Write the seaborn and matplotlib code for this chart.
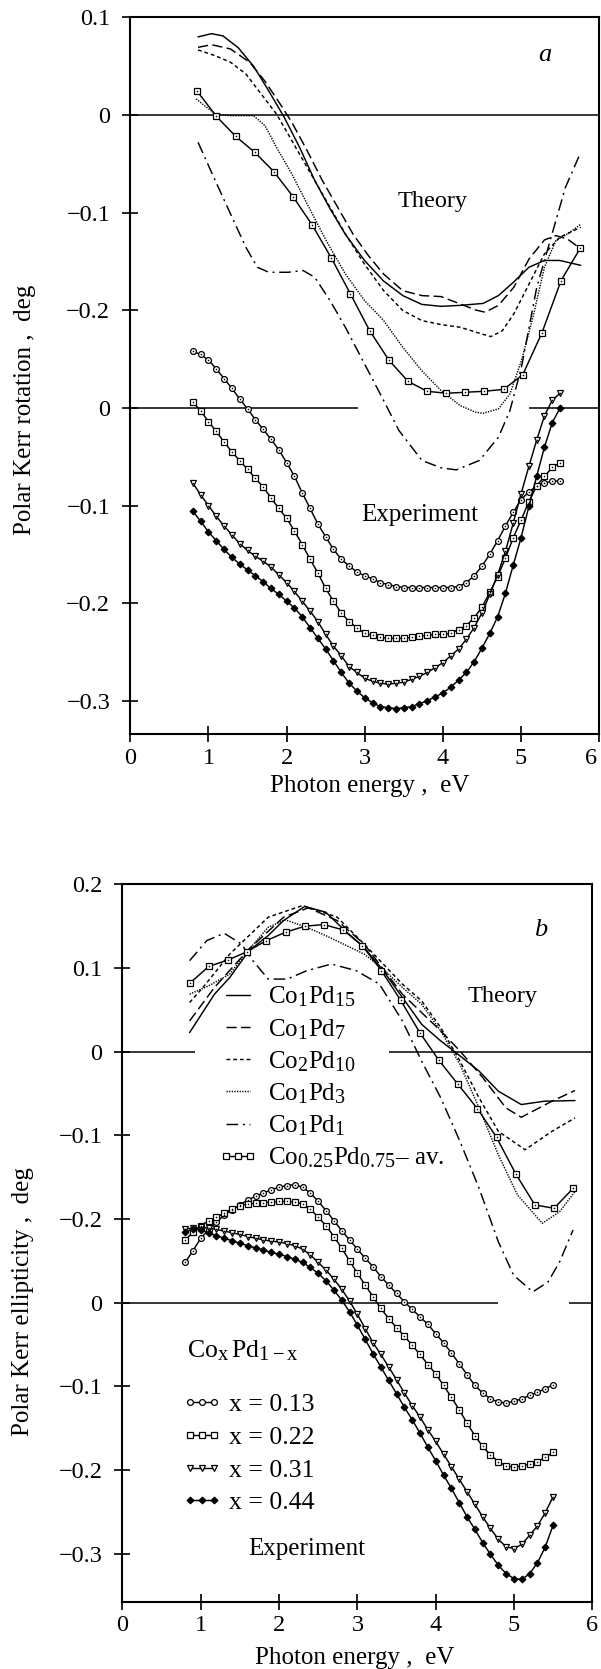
import numpy as np
import matplotlib
matplotlib.use("Agg")
import matplotlib.pyplot as plt
import matplotlib.transforms as mtransforms
from matplotlib.lines import Line2D
import seaborn as sns

try:  # slightly larger sub/superscripts for the compound formulas
    import matplotlib._mathtext as _mt
    _mt.SHRINK_FACTOR = 0.8
except Exception:
    pass

# ------------------------------------------------------------------
# Polar Kerr spectra of Co-Pd alloys (theory curves shifted by +0.3)
# ------------------------------------------------------------------
THEORY_SHIFT = 0.3

# photon energy grid of the measured spectra (eV)
exp_energy = np.linspace(0.8, 5.5, 48)
# energy grid of the configuration-averaged theory curve (eV)
avg_energy = [0.857, 1.102, 1.347, 1.592, 1.837, 2.082, 2.327, 2.572, 2.817, 3.062, 3.307,
              3.552, 3.797, 4.042, 4.287, 4.532, 4.777, 5.022, 5.267, 5.512, 5.757]

# ---------------- (a) Kerr rotation, theory ----------------
rot_co1pd15_e = [0.867, 1.04, 1.185, 1.38, 1.577, 1.77, 1.97, 2.165, 2.36, 2.556, 2.75, 2.997,
                 3.24, 3.487, 3.73, 3.976, 4.22, 4.515, 4.71, 4.907, 5.10, 5.30, 5.495, 5.764]
rot_co1pd15 = [0.080, 0.0833, 0.081, 0.069, 0.050, 0.0249, -0.0024, -0.033, -0.067, -0.096,
               -0.122, -0.149, -0.170, -0.185, -0.194, -0.196, -0.195, -0.193, -0.185, -0.171,
               -0.156, -0.149, -0.149, -0.154]

rot_co1pd7_e = [0.867, 1.04, 1.283, 1.528, 1.724, 1.92, 2.067, 2.263, 2.458, 2.654, 2.85, 3.046,
                3.242, 3.487, 3.732, 3.977, 4.221, 4.417, 4.54, 4.711, 4.907, 5.103, 5.299,
                5.446, 5.593, 5.764]
rot_co1pd7 = [0.0693, 0.072, 0.0676, 0.0539, 0.0345, 0.011, -0.0075, -0.0365, -0.0672, -0.0945,
              -0.122, -0.144, -0.163, -0.180, -0.185, -0.186, -0.1935, -0.1997, -0.202, -0.195,
              -0.1765, -0.1474, -0.128, -0.1235, -0.127, -0.137]

rot_co2pd10_e = [0.867, 1.087, 1.283, 1.479, 1.675, 1.871, 2.067, 2.263, 2.507, 2.752, 2.997,
                 3.242, 3.487, 3.732, 3.977, 4.221, 4.466, 4.613, 4.76, 4.907, 5.103, 5.299,
                 5.495, 5.764]
rot_co2pd10 = [0.0666, 0.0607, 0.054, 0.042, 0.0215, 0.001, -0.0263, -0.0536, -0.0877, -0.1218,
               -0.1529, -0.1799, -0.2003, -0.2106, -0.2147, -0.2174, -0.2235, -0.227, -0.221,
               -0.2038, -0.173, -0.1423, -0.1253, -0.115]

rot_co1pd3_e = [0.842, 1.087, 1.283, 1.577, 1.724, 1.871, 2.067, 2.263, 2.507, 2.752, 2.997,
                3.242, 3.487, 3.732, 3.977, 4.221, 4.417, 4.515, 4.711, 4.858, 5.005, 5.152,
                5.299, 5.446, 5.593, 5.764]
rot_co1pd3 = [0.0164, 0.001, -0.0007, -0.0007, -0.011, -0.0331, -0.0604, -0.0911, -0.1287,
              -0.1628, -0.190, -0.2106, -0.2379, -0.2621, -0.2823, -0.2976, -0.3044, -0.3055,
              -0.301, -0.2857, -0.2515, -0.2072, -0.156, -0.1287, -0.1218, -0.112]

rot_co1pd1_e = [0.867, 1.087, 1.283, 1.479, 1.626, 1.773, 2.018, 2.213, 2.36, 2.556, 2.752,
                2.997, 3.242, 3.438, 3.732, 3.977, 4.172, 4.466, 4.711, 4.858, 5.005, 5.201,
                5.397, 5.568, 5.764]
rot_co1pd1 = [-0.028, -0.0672, -0.1014, -0.1355, -0.156, -0.1611, -0.1611, -0.1594, -0.1662,
              -0.1901, -0.2174, -0.2549, -0.2925, -0.3232, -0.3539, -0.3614, -0.3635, -0.3539,
              -0.330, -0.3027, -0.2584, -0.1765, -0.1218, -0.0741, -0.0382]

rot_avg = [0.0242, -0.0014, -0.0218, -0.0382, -0.058, -0.0836, -0.1126, -0.1464, -0.1833,
           -0.2208, -0.2509, -0.2727, -0.283, -0.285, -0.284, -0.283, -0.281, -0.266, -0.2232,
           -0.1696, -0.1365]

# ---------------- (a) Kerr rotation, experiment ----------------
rot_x013 = [0.058, 0.0547, 0.049, 0.040, 0.030, 0.020, 0.009, -0.001, -0.012, -0.022, -0.032,
            -0.043, -0.056, -0.070, -0.087, -0.103, -0.119, -0.132, -0.145, -0.155, -0.162,
            -0.168, -0.172, -0.175, -0.179, -0.181, -0.183, -0.184, -0.184, -0.184, -0.184,
            -0.184, -0.184, -0.184, -0.183, -0.179, -0.172, -0.162, -0.150, -0.136, -0.121,
            -0.107, -0.094, -0.086, -0.080, -0.077, -0.075, -0.075]
rot_x022 = [0.006, -0.003, -0.014, -0.024, -0.035, -0.045, -0.054, -0.063, -0.072, -0.081,
            -0.092, -0.103, -0.113, -0.126, -0.140, -0.155, -0.169, -0.185, -0.198, -0.210,
            -0.219, -0.225, -0.231, -0.233, -0.235, -0.236, -0.236, -0.236, -0.235, -0.234,
            -0.233, -0.232, -0.232, -0.231, -0.227, -0.223, -0.215, -0.204, -0.189, -0.173,
            -0.154, -0.133, -0.115, -0.096, -0.080, -0.070, -0.061, -0.056]
rot_x031 = [-0.077, -0.089, -0.100, -0.111, -0.121, -0.130, -0.139, -0.146, -0.152, -0.157,
            -0.163, -0.171, -0.179, -0.188, -0.198, -0.208, -0.219, -0.232, -0.244, -0.254,
            -0.265, -0.271, -0.277, -0.280, -0.282, -0.283, -0.282, -0.281, -0.278, -0.275,
            -0.271, -0.266, -0.261, -0.254, -0.247, -0.237, -0.225, -0.210, -0.191, -0.171,
            -0.147, -0.118, -0.088, -0.060, -0.033, -0.008, 0.008, 0.015]
rot_x044 = [-0.106, -0.116, -0.127, -0.136, -0.145, -0.153, -0.160, -0.166, -0.172, -0.178,
            -0.185, -0.191, -0.198, -0.205, -0.214, -0.225, -0.236, -0.247, -0.259, -0.271,
            -0.282, -0.290, -0.297, -0.302, -0.306, -0.307, -0.308, -0.307, -0.306, -0.303,
            -0.300, -0.296, -0.292, -0.286, -0.279, -0.271, -0.260, -0.246, -0.231, -0.214,
            -0.190, -0.161, -0.133, -0.101, -0.070, -0.040, -0.015, 0.000]

# ---------------- (b) Kerr ellipticity, theory ----------------
ell_co1pd15_e = [0.857, 1.175, 1.371, 1.616, 1.861, 2.057, 2.326, 2.596, 2.84, 3.085, 3.33,
                 3.575, 3.82, 4.065, 4.26, 4.554, 4.80, 5.093, 5.387, 5.779]
ell_co1pd15 = [0.0228, 0.0688, 0.0888, 0.1208, 0.1388, 0.1568, 0.1736, 0.1668, 0.1448, 0.1248,
               0.0968, 0.0648, 0.0328, 0.0128, -0.0012, -0.0232, -0.0472, -0.0632, -0.0592,
               -0.0584]

ell_co1pd7_e = [0.857, 1.175, 1.616, 2.057, 2.375, 2.742, 3.085, 3.575, 4.065, 4.31, 4.603,
                4.897, 5.093, 5.485, 5.779]
ell_co1pd7 = [0.0368, 0.0768, 0.1228, 0.1608, 0.172, 0.1568, 0.1288, 0.0688, 0.0248, 0.0008,
              -0.0312, -0.0672, -0.0784, -0.0592, -0.0464]

ell_co2pd10_e = [0.857, 1.028, 1.371, 1.861, 2.302, 2.742, 3.085, 3.575, 3.82, 4.065, 4.31,
                 4.554, 4.80, 5.142, 5.485, 5.779]
ell_co2pd10 = [0.0588, 0.0768, 0.1168, 0.1608, 0.1748, 0.1608, 0.1288, 0.0808, 0.0608, 0.0288,
               -0.0112, -0.0552, -0.0952, -0.1172, -0.0952, -0.0792]

ell_co1pd3_e = [0.857, 1.102, 1.371, 1.567, 1.861, 2.081, 2.351, 2.596, 3.085, 3.33, 3.575,
                3.82, 4.065, 4.31, 4.554, 4.80, 5.044, 5.362, 5.583, 5.779]
ell_co1pd3 = [0.0688, 0.0788, 0.0928, 0.1168, 0.1488, 0.1576, 0.1488, 0.1388, 0.1168, 0.0988,
              0.0768, 0.0568, 0.0248, -0.0152, -0.0672, -0.1232, -0.1712, -0.2052, -0.1912,
              -0.1672]

ell_co1pd1_e = [0.857, 1.077, 1.298, 1.518, 1.665, 1.861, 2.106, 2.351, 2.669, 2.987, 3.281,
                3.575, 3.82, 4.065, 4.31, 4.554, 4.80, 4.995, 5.24, 5.436, 5.583, 5.754]
ell_co1pd1 = [0.1088, 0.1328, 0.1416, 0.1288, 0.1088, 0.0868, 0.0868, 0.0968, 0.1048, 0.0968,
              0.0808, 0.0368, -0.0112, -0.0552, -0.1072, -0.1632, -0.2272, -0.2672, -0.2872,
              -0.2752, -0.2512, -0.2132]

ell_avg = [0.0816, 0.102, 0.1096, 0.1196, 0.1328, 0.1428, 0.150, 0.152, 0.1456, 0.1268, 0.0968,
           0.0616, 0.0228, -0.0104, -0.0392, -0.068, -0.1024, -0.146, -0.1832, -0.1872, -0.1632]

# ---------------- (b) Kerr ellipticity, experiment ----------------
ell_x013 = [0.048, 0.062, 0.077, 0.087, 0.096, 0.105, 0.111, 0.117, 0.123, 0.127, 0.131, 0.135,
            0.138, 0.140, 0.141, 0.138, 0.131, 0.121, 0.110, 0.098, 0.086, 0.075, 0.064, 0.053,
            0.043, 0.031, 0.021, 0.011, 0.001, -0.008, -0.017, -0.026, -0.037, -0.048, -0.060,
            -0.073, -0.086, -0.099, -0.108, -0.115, -0.119, -0.120, -0.118, -0.115, -0.111,
            -0.107, -0.103, -0.098]
ell_x022 = [0.075, 0.084, 0.092, 0.098, 0.102, 0.107, 0.112, 0.116, 0.118, 0.119, 0.1195, 0.120,
            0.121, 0.121, 0.120, 0.118, 0.112, 0.102, 0.092, 0.079, 0.065, 0.050, 0.035, 0.021,
            0.007, -0.007, -0.019, -0.030, -0.040, -0.051, -0.062, -0.074, -0.085, -0.099,
            -0.113, -0.128, -0.144, -0.159, -0.172, -0.182, -0.190, -0.195, -0.197, -0.195,
            -0.193, -0.190, -0.185, -0.179]
ell_x031 = [0.088, 0.089, 0.090, 0.089, 0.0875, 0.0855, 0.0835, 0.0815, 0.079, 0.077, 0.075,
            0.0735, 0.0725, 0.0705, 0.068, 0.064, 0.057, 0.048, 0.039, 0.028, 0.016, 0.002,
            -0.014, -0.031, -0.048, -0.062, -0.077, -0.092, -0.108, -0.123, -0.137, -0.152,
            -0.166, -0.181, -0.196, -0.211, -0.226, -0.241, -0.256, -0.270, -0.283, -0.292,
            -0.294, -0.289, -0.278, -0.267, -0.251, -0.232]
ell_x044 = [0.084, 0.088, 0.087, 0.083, 0.080, 0.077, 0.074, 0.071, 0.068, 0.0655, 0.063,
            0.060, 0.058, 0.055, 0.052, 0.048, 0.042, 0.035, 0.026, 0.015, 0.003, -0.011,
            -0.027, -0.044, -0.061, -0.077, -0.093, -0.109, -0.125, -0.140, -0.156, -0.173,
            -0.189, -0.206, -0.222, -0.239, -0.256, -0.271, -0.287, -0.301, -0.314, -0.324,
            -0.330, -0.331, -0.324, -0.311, -0.292, -0.266]

theory_labels = [r"$\mathregular{Co_1Pd_{15}}$", r"$\mathregular{Co_1Pd_7}$",
                 r"$\mathregular{Co_2Pd_{10}}$", r"$\mathregular{Co_1Pd_3}$",
                 r"$\mathregular{Co_1Pd_1}$", r"$\mathregular{Co_{0.25}Pd_{0.75}}$– av."]
exp_labels = ["x = 0.13", "x = 0.22", "x = 0.31", "x = 0.44"]

# y tick positions on the shared axis and the values they stand for
rot_ticks = [0.4, 0.3, 0.2, 0.1, 0.0, -0.1, -0.2, -0.3]
rot_tick_labels = ["0.1", "0", "−0.1", "−0.2", "0", "−0.1", "−0.2", "−0.3"]
ell_ticks = [0.5, 0.4, 0.3, 0.2, 0.1, 0.0, -0.1, -0.2, -0.3]
ell_tick_labels = ["0.2", "0.1", "0", "−0.1", "−0.2", "0", "−0.1", "−0.2", "−0.3"]

# ------------------------------------------------------------------
sns.set_theme(style="ticks")
plt.rcParams["font.family"] = ["Liberation Serif", "DejaVu Serif"]
plt.rcParams["mathtext.fontset"] = "custom"
plt.rcParams["mathtext.rm"] = "Liberation Serif"
plt.rcParams["mathtext.it"] = "Liberation Serif:italic"
plt.rcParams["text.color"] = "black"
plt.rcParams["axes.labelcolor"] = "black"

INK = "black"
LW = 1.05
STYLES = {
    "solid": "-",
    "dash": (0, (7, 3)),
    "short": (0, (2.6, 2.0)),
    "dot": (0, (0.9, 0.9)),
    "dashdot": (0, (8, 3.2, 1.4, 3.2)),
}
MARKERS = {
    "circle": dict(marker="o", markersize=4.2, markerfacecolor="white"),
    "square": dict(marker="s", markersize=4.2, markerfacecolor="white"),
    "tri": dict(marker="v", markersize=4.8, markerfacecolor="white"),
    "diamond": dict(marker="D", markersize=3.4, markerfacecolor=INK),
}


def curve(ax, x, y, ls="-", mk=None, dot=False):
    x = np.asarray(x, dtype=float)
    y = np.asarray(y, dtype=float)
    kw = dict(color=INK, linewidth=LW, linestyle=ls, sort=False, estimator=None,
              errorbar=None, legend=False, ax=ax)
    if mk is not None:
        kw.update(MARKERS[mk])
        kw.update(markeredgecolor=INK, markeredgewidth=0.9)
    sns.lineplot(x=x, y=y, **kw)
    if dot:
        sns.scatterplot(x=x, y=y, s=1.3, color=INK, linewidth=0, ax=ax, legend=False,
                        zorder=5)


def frame(ax, ticks, tick_labels, ylim):
    ax.set_xlim(0, 6)
    ax.set_ylim(*ylim)
    ax.set_xticks(range(7), [str(i) for i in range(7)])
    ax.set_yticks(ticks, tick_labels)
    ax.tick_params(axis="both", direction="inout", length=11, width=1.2, color=INK,
                   labelsize=17.5, labelcolor=INK)
    ax.tick_params(axis="y", pad=9)
    ax.tick_params(axis="x", pad=4)
    for sp in ax.spines.values():
        sp.set_visible(True)
        sp.set_linewidth(1.5)
        sp.set_color(INK)
    ax.set_facecolor("white")
    ax.grid(False)


fig = plt.figure(figsize=(6.01, 16.69), dpi=100)
fig.patch.set_facecolor("white")
ax_a = fig.add_axes([0.2168, 0.5600, 0.7802, 0.4296])
ax_b = fig.add_axes([0.2038, 0.0401, 0.7817, 0.4300])

# ---------------- panel (a) ----------------
ax = ax_a
frame(ax, rot_ticks, rot_tick_labels, (-0.3344, 0.4))
# the last energy label sits tight against the right edge of the page
last = ax.get_xticklabels()[-1]
last.set_transform(last.get_transform()
                   + mtransforms.ScaledTranslation(-6 / 72, 0, fig.dpi_scale_trans))
ax.hlines(THEORY_SHIFT, 0, 6, color=INK, linewidth=1.1)
ax.hlines(0, 0, 2.92, color=INK, linewidth=1.1)
ax.hlines(0, 5.10, 6, color=INK, linewidth=1.1)

sh = THEORY_SHIFT
curve(ax, rot_co1pd15_e, np.add(rot_co1pd15, sh), STYLES["solid"])
curve(ax, rot_co1pd7_e, np.add(rot_co1pd7, sh), STYLES["dash"])
curve(ax, rot_co2pd10_e, np.add(rot_co2pd10, sh), STYLES["short"])
curve(ax, rot_co1pd3_e, np.add(rot_co1pd3, sh), STYLES["dot"])
curve(ax, rot_co1pd1_e, np.add(rot_co1pd1, sh), STYLES["dashdot"])
curve(ax, avg_energy, np.add(rot_avg, sh), "-", "square", dot=True)

curve(ax, exp_energy, rot_x013, "-", "circle", dot=True)
curve(ax, exp_energy, rot_x022, "-", "square", dot=True)
curve(ax, exp_energy, rot_x031, "-", "tri", dot=True)
curve(ax, exp_energy, rot_x044, "-", "diamond")

ax.text(5.30, 0.361, "a", style="italic", fontsize=19, ha="center", va="center")
ax.text(3.87, 0.211, "Theory", fontsize=17.5, ha="center", va="center")
ax.text(3.70, -0.110, "Experiment", fontsize=18, ha="center", va="center")
ax.set_xlabel("Photon energy ,  eV", fontsize=18)
ax.set_ylabel("Polar Kerr rotation ,  deg", fontsize=18)
ax.xaxis.set_label_coords(0.51, -0.056)
ax.yaxis.set_label_coords(-0.201, 0.452)

# ---------------- panel (b) ----------------
ax = ax_b
frame(ax, ell_ticks, ell_tick_labels, (-0.358, 0.5))
ax.hlines(THEORY_SHIFT, 0, 0.93, color=INK, linewidth=1.1)
ax.hlines(THEORY_SHIFT, 3.40, 6, color=INK, linewidth=1.1)
ax.hlines(0, 0, 4.80, color=INK, linewidth=1.1)
ax.hlines(0, 5.70, 6, color=INK, linewidth=1.1)

curve(ax, ell_co1pd15_e, np.add(ell_co1pd15, sh), STYLES["solid"])
curve(ax, ell_co1pd7_e, np.add(ell_co1pd7, sh), STYLES["dash"])
curve(ax, ell_co2pd10_e, np.add(ell_co2pd10, sh), STYLES["short"])
curve(ax, ell_co1pd3_e, np.add(ell_co1pd3, sh), STYLES["dot"])
curve(ax, ell_co1pd1_e, np.add(ell_co1pd1, sh), STYLES["dashdot"])
curve(ax, avg_energy, np.add(ell_avg, sh), "-", "square", dot=True)

curve(ax, exp_energy, ell_x013, "-", "circle", dot=True)
curve(ax, exp_energy, ell_x022, "-", "square", dot=True)
curve(ax, exp_energy, ell_x031, "-", "tri", dot=True)
curve(ax, exp_energy, ell_x044, "-", "diamond")

ax.text(5.34, 0.445, "b", style="italic", fontsize=19, ha="center", va="center")
ax.text(4.85, 0.3665, "Theory", fontsize=17.5, ha="center", va="center")
ax.text(0.82, -0.066, r"$\mathregular{Co_x\,Pd_{1-x}}$", fontsize=18.5, ha="left",
        va="baseline")
ax.text(2.35, -0.294, "Experiment", fontsize=18, ha="center", va="center")
ax.set_xlabel("Photon energy ,  eV", fontsize=18)
ax.set_ylabel("Polar Kerr ellipticity ,  deg", fontsize=18)
ax.xaxis.set_label_coords(0.494, -0.062)
ax.yaxis.set_label_coords(-0.188, 0.419)

# legends
theory_handles = [
    Line2D([], [], color=INK, lw=LW, ls=STYLES["solid"]),
    Line2D([], [], color=INK, lw=LW, ls=STYLES["dash"]),
    Line2D([], [], color=INK, lw=LW, ls=STYLES["short"]),
    Line2D([], [], color=INK, lw=LW, ls=STYLES["dot"]),
    Line2D([], [], color=INK, lw=LW, ls=STYLES["dashdot"]),
    Line2D([], [], color=INK, lw=LW, ls="-", markeredgecolor=INK, markeredgewidth=0.9,
           **MARKERS["square"]),
]
leg1 = ax.legend(theory_handles, theory_labels, loc="upper left",
                 bbox_to_anchor=(0.2043, 0.860), frameon=False, fontsize=18,
                 handlelength=1.55, handletextpad=0.42, labelspacing=0.3,
                 borderpad=0, borderaxespad=0, numpoints=3)
ax.add_artist(leg1)

exp_handles = [
    Line2D([], [], color=INK, lw=LW, markeredgecolor=INK, markeredgewidth=0.9,
           **MARKERS[m]) for m in ["circle", "square", "tri", "diamond"]
]
ax.legend(exp_handles, exp_labels, loc="upper left", bbox_to_anchor=(0.1266, 0.291),
          frameon=False, fontsize=18.5, handlelength=1.55, handletextpad=0.3,
          labelspacing=0.38, borderpad=0, borderaxespad=0, numpoints=3)

fig.savefig("out.png", dpi=100, facecolor="white")
